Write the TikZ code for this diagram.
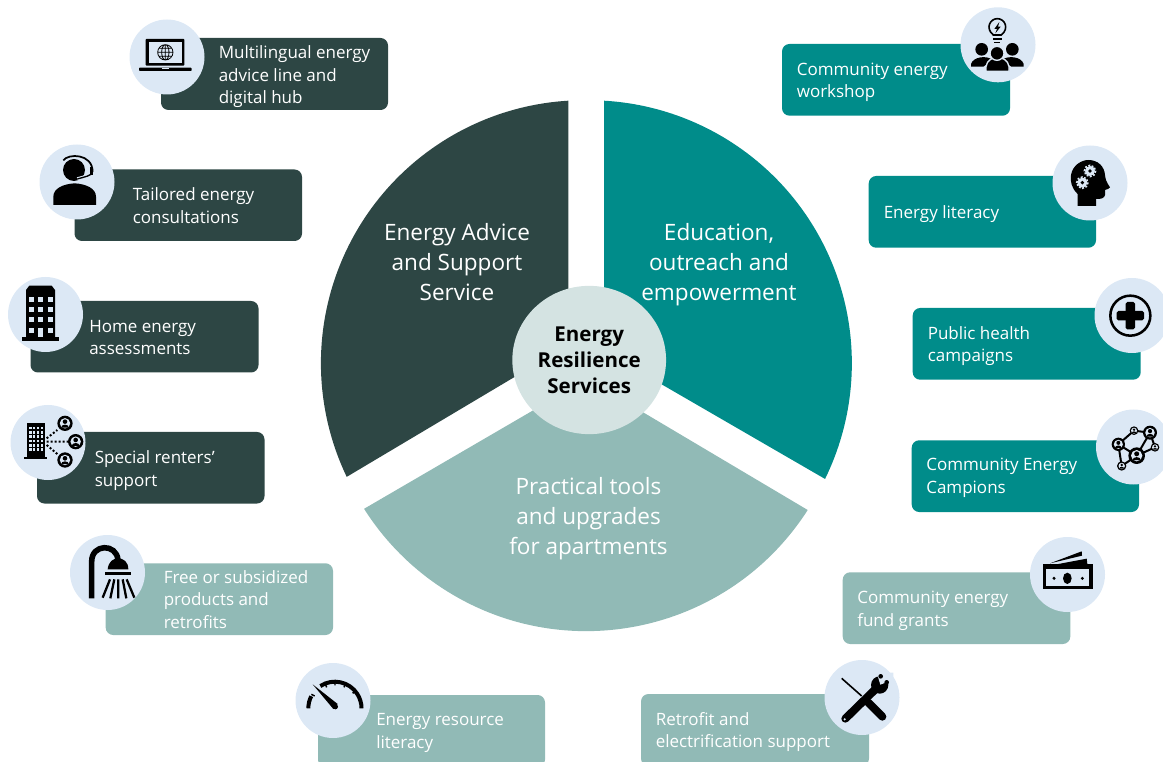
\documentclass[tikz,border=0pt]{standalone}
\usepackage{fontspec}
\usetikzlibrary{shapes.geometric}
\setmainfont{Open Sans}
\definecolor{darkc}{HTML}{2D4644}
\definecolor{tealc}{HTML}{008C8A}
\definecolor{sagec}{HTML}{91BAB6}
\definecolor{discc}{HTML}{DCE8F5}
\definecolor{hubc}{HTML}{D4E3E2}
\definecolor{ink}{HTML}{000000}
\tikzset{
  pill/.style={rectangle,rounded corners=5.6pt,inner sep=0pt,draw=none},
  disc/.style={circle,fill=discc,draw=none,inner sep=0pt,minimum size=56.25pt},
  lbl/.style={anchor=base west,inner sep=0pt,text=white,align=left,font=\fontsize{12.75}{16.9}\selectfont},
  big/.style={anchor=base,inner sep=0pt,text=white,align=center,font=\fontsize{16.9}{22.4}\selectfont},
  hub/.style={ellipse,fill=hubc,draw=none,inner sep=0pt,minimum width=115.3pt,minimum height=111.2pt},
  hubt/.style={anchor=base,inner sep=0pt,text=black,align=center,font=\bfseries\fontsize{15.4}{19.6}\selectfont},
  zm/.style 2 args={shift={(#1,#2)},x=0.25pt,y=-0.25pt}
}
\newcommand{\pillat}[6]{\node[pill,fill=#6,minimum width={(#4-#2)*0.75pt},minimum height={(#5-#3)*0.75pt}] (#1) at ({(#2+#4)/2},{(#3+#5)/2}) {};}
\newcommand{\pers}[3]{%
  \fill[ink] (#1,#2) circle (#3);
  \fill[discc] (#1,#2) circle ({.68*#3});
  \fill[ink] (#1,{#2-.22*#3}) circle ({.3*#3});
  \fill[ink] ({#1-.52*#3},{#2+.55*#3}) .. controls ({#1-.47*#3},{#2+.05*#3}) and ({#1+.47*#3},{#2+.05*#3}) .. ({#1+.52*#3},{#2+.55*#3}) -- cycle;}
\newcommand{\gearicon}[3]{%
  \fill[discc] (#1,#2) circle (#3);
  \draw[discc,line width=1.2pt,dash pattern=on 1.4pt off 1.2pt] (#1,#2) circle ({#3+2});
  \fill[ink] (#1,#2) circle ({.38*#3});}
\begin{document}
\begin{tikzpicture}[x=0.75pt,y=-0.75pt]
\useasboundingbox (0,0) rectangle (1163,762);
\clip (0,0) rectangle (1163,762);
% pie sectors
\fill[darkc] (568.3,345) -- (568.3,100.7) arc[start angle=266.6,end angle=154.4,radius=263] -- cycle;
\fill[tealc] (604,351) -- (604,100.7) arc[start angle=273.3,end angle=386.1,radius=263] -- cycle;
\fill[sagec] (587,379) -- (807.7,510) arc[start angle=32.65,end angle=147.66,radius=263] -- cycle;
\node[big] (seca) at (457,300.6) {Energy Advice\\and Support\\Service};
\node[big] (secb) at (719,300.6) {Education,\\outreach and\\empowerment};
\node[big] (secc) at (588.5,554) {Practical tools\\and upgrades\\for apartments};
\node[hub] (centre) at (589.2,360) {};
\node[hubt] (centret) at (589.2,394) {Energy\\Resilience\\Services};
% pills
\pillat{pa}{161}{38}{388}{110}{darkc}
\pillat{pb}{74.5}{169.5}{302}{241}{darkc}
\pillat{pc}{30.5}{301}{258.5}{372.5}{darkc}
\pillat{pd}{37}{432}{264.5}{503.5}{darkc}
\pillat{pe}{105.7}{563.3}{333}{635}{sagec}
\pillat{pf}{318}{695}{545}{767}{sagec}
\pillat{ra}{782}{44}{1010}{115.7}{tealc}
\pillat{rb}{868.7}{176}{1096}{247.7}{tealc}
\pillat{rc}{912.7}{308}{1140.7}{379.7}{tealc}
\pillat{rd}{911.7}{440.3}{1139}{512}{tealc}
\pillat{re}{842.7}{572.3}{1070.3}{644}{sagec}
\pillat{rf}{641}{694}{869}{766}{sagec}
% labels
\node[lbl] (ta) at (218.5,103.7) {Multilingual energy\\advice line and\\digital hub};
\node[lbl] (tb) at (132.5,223.2) {Tailored energy\\consultations};
\node[lbl] (tc) at (89,354.7) {Home energy\\assessments};
\node[lbl] (td) at (94.5,486.2) {Special renters’\\support};
\node[lbl] (te) at (163.5,628.2) {Free or subsidized\\products and\\retrofits};
\node[lbl] (tf) at (376,748.5) {Energy resource\\literacy};
\node[lbl] (ua) at (796.5,97.7) {Community energy\\workshop};
\node[lbl] (ub) at (883.5,218.7) {Energy literacy};
\node[lbl] (uc) at (927.5,361.7) {Public health\\campaigns};
\node[lbl] (ud) at (926,493.4) {Community Energy\\Campions};
\node[lbl] (ue) at (857,626.2) {Community energy\\fund grants};
\node[lbl] (uf) at (655.5,747.7) {Retrofit and\\electrification support};
% discs
\node[disc] (da) at (167,57) {};
\node[disc] (db) at (77,182) {};
\node[disc] (dc) at (45.5,314.5) {};
\node[disc] (dd) at (48,442.5) {};
\node[disc] (de) at (107.5,572.5) {};
\node[disc] (df) at (333,700.5) {};
\node[disc] (ea) at (998,44.8) {};
\node[disc] (eb) at (1090,183) {};
\node[disc] (ec) at (1132,315.5) {};
\node[disc] (ed) at (1133.5,447) {};
\node[disc] (ee) at (1067.5,574.5) {};
\node[disc] (ef) at (862,697.5) {};
% laptop
\begin{scope}[zm={0}{0}]
\fill[ink,rounded corners=.6pt] (437,117) rectangle (553,197);
\fill[discc] (446,127) rectangle (545,188);
\draw[ink,line width=.6pt] (496,157) circle (23) (496,157) ellipse (11 and 23) (473,157)--(519,157) (477,145)--(515,145) (477,169)--(515,169) (496,134)--(496,180);
\fill[ink,rounded corners=.6pt] (417,203) rectangle (575,213);
\fill[discc] (485,203) rectangle (507,206);
\end{scope}
% headset
\begin{scope}[zm={0}{0}]
\fill[ink] (160,615)--(160,590) .. controls (160,565) and (190,552) .. (224,550) .. controls (258,552) and (288,565) .. (288,590)--(288,615)--cycle;
\fill[ink] (222,510) circle (33);
\draw[discc,line width=2.6pt] (190,483) .. controls (205,462) and (275,462) .. (277,515) .. controls (275,528) and (255,530) .. (232,537);
\draw[ink,line width=1.3pt] (190,481) .. controls (205,460) and (277,460) .. (278,515);
\draw[ink,line width=1pt] (278,515) .. controls (275,528) and (255,530) .. (232,537);
\fill[ink] (270,500) rectangle (279,525);
\end{scope}
% building
\begin{scope}[zm={0}{260}]
\fill[ink] (78,232)--(78,90)--(88,77)--(155,77)--(165,90)--(165,232)--cycle;
\fill[ink] (67,230) rectangle (178,243);
\foreach \px in {88,115,143}{\foreach \py in {110,140,172}{\fill[discc] (\px,\py) rectangle ++(15,15);}}
\fill[discc] (88,205) rectangle ++(15,13);
\fill[discc] (143,205) rectangle ++(15,13);
\fill[discc] (115,205) rectangle (128,230);
\end{scope}
% renters
\begin{scope}[zm={0}{260}]
\fill[ink] (80,490) rectangle (135,592);
\fill[ink] (72,590) rectangle (142,598);
\foreach \px in {87,98,110,122}{\foreach \py in {500,513,526,539,552,565}{\fill[discc] (\px,\py) rectangle ++(8,8);}}
\fill[ink] (105,578) rectangle (115,592);
\draw[ink,line width=1.5pt,dash pattern=on 1.5pt off 1.5pt] (140,535)--(172,510) (140,545)--(205,545) (140,555)--(172,582);
\pers{195}{490}{23}
\pers{227}{545}{23}
\pers{195}{600}{23}
\end{scope}
% shower
\begin{scope}[zm={60}{530}]
\draw[ink,line width=4.2pt] (95,205)--(95,95) .. controls (95,40) and (170,40) .. (174,90);
\fill[ink] (143,118) .. controls (145,95) and (160,85) .. (174,85) .. controls (190,85) and (205,95) .. (205,118) -- cycle;
\fill[ink] (135,125) rectangle (213,135);
\draw[ink,line width=1.7pt] (128,203)--(150,148) (151,205)--(163,148) (175,205)--(175,148) (199,205)--(188,148) (223,203)--(200,148);
\end{scope}
% gauge
\begin{scope}[zm={60}{530}]
\draw[ink,line width=3pt] (745,535) arc[start angle=180,end angle=207,radius=80];
\draw[ink,line width=3pt] (781,468) arc[start angle=237,end angle=360,radius=80];
\draw[ink,line width=1.1pt] (764,498)--(754,493) (800,472)--(796,462) (825,466)--(825,456) (852,472)--(856,462) (878,490)--(886,482) (895,512)--(903,508);
\fill[ink] (758,463)--(833,522)--(820,537)--cycle;
\fill[ink] (826,530) circle (8);
\end{scope}
% community workshop
\begin{scope}[zm={770}{0}]
\draw[ink,line width=1.2pt] (670,105) .. controls (645,85) and (660,56) .. (682,56) .. controls (704,56) and (719,85) .. (694,105) -- cycle;
\fill[ink] (688,66)--(673,87)--(681,87)--(676,100)--(692,80)--(684,80)--cycle;
\fill[ink] (668,114) rectangle (696,119);
\fill[ink] (672,125) rectangle (690,130);
\fill[ink] (635,148) circle (19);
\fill[ink] (727,148) circle (19);
\fill[ink] (603,200)--(603,192) .. controls (610,170) and (650,165) .. (668,180) -- (640,200) -- cycle;
\fill[ink] (761,200)--(761,192) .. controls (754,170) and (714,165) .. (696,180) -- (724,200) -- cycle;
\draw[discc,line width=1pt,fill=ink] (648,214)--(648,200) .. controls (650,180) and (670,172) .. (682,172) .. controls (695,172) and (715,180) .. (717,200)--(717,214)--cycle;
\draw[discc,line width=1pt,fill=ink] (681,160) circle (21);
\end{scope}
% head with gears
\begin{scope}[zm={770}{0}]
\fill[ink] (923,618)--(923,582) .. controls (905,565) and (900,545) .. (903,525) .. controls (908,495) and (935,480) .. (955,480) .. controls (985,480) and (1003,500) .. (1005,525) .. controls (1006,535) and (1008,545) .. (1020,562) .. controls (1020,566) and (1010,568) .. (1005,570) -- (1005,585) .. controls (1004,595) and (990,598) .. (978,597) -- (978,618) -- cycle;
\gearicon{960}{513}{15}
\gearicon{937}{548}{15}
\end{scope}
% plus
\begin{scope}[zm={830}{270}]
\draw[ink,line width=1.9pt] (901,137) circle (60);
\fill[ink,rounded corners=1.2pt] (887,96) rectangle (915,178);
\fill[ink,rounded corners=1.2pt] (860,123) rectangle (942,151);
\end{scope}
% network
\begin{scope}[zm={830}{270}]
\draw[ink,line width=1.5pt] (865,523)--(912,482)--(960,488)--(920,557)--(865,523)--(875,588)--(920,557)--(975,532)--(960,488);
\pers{920}{557}{25}
\pers{960}{488}{21}
\pers{865}{523}{20}
\pers{912}{482}{13}
\pers{975}{532}{13}
\pers{875}{588}{14}
\end{scope}
% money
\begin{scope}[zm={830}{270}]
\fill[ink] (638,882) rectangle (788,958);
\fill[discc] (648,898) rectangle (778,948);
\fill[ink] (712,925) ellipse (13 and 17);
\fill[ink] (672,925) circle (5);
\fill[ink] (757,925) circle (5);
\fill[ink] (660,880)--(755,844)--(756,857)--cycle;
\fill[ink] (685,882)--(770,866)--(772,882)--cycle;
\end{scope}
% tools
\begin{scope}[zm={630}{650}]
\draw[ink,line width=1.2pt] (635,85)--(695,138);
\draw[ink,line width=6pt,line cap=round] (715,158)--(757,200);
\draw[ink,line width=6pt,line cap=round] (646,206)--(738,116);
\fill[ink] (749,105) circle (26);
\fill[discc] (751,104)--(740,68)--(790,68)--(790,92)--(772,96)--cycle;
\fill[ink] (752,79) circle (7);
\fill[ink] (770,97) circle (7);
\fill[discc] (644,208) circle (3.5);
\end{scope}
\end{tikzpicture}
\end{document}
